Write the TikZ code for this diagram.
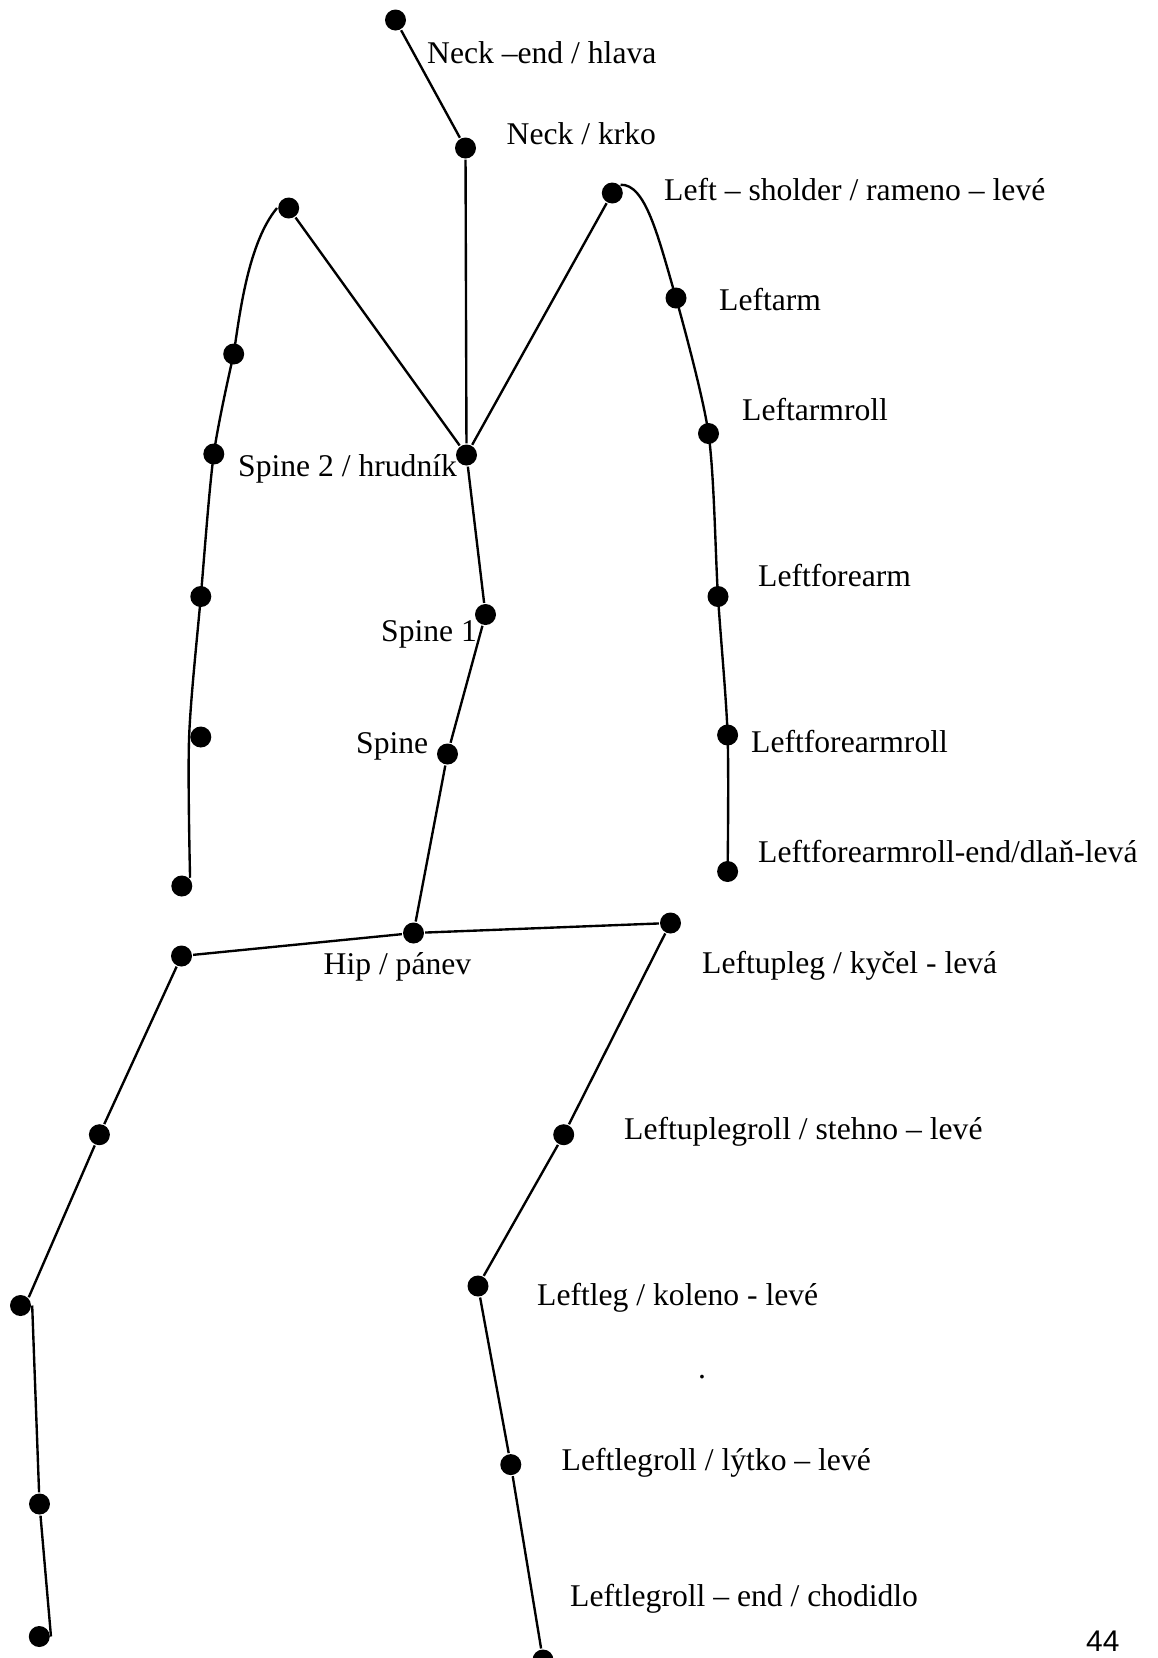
\documentclass[tikz,border=0pt]{standalone}
\usepackage{fontspec}
\setmainfont{Liberation Serif}
\newfontfamily\pagefont{Liberation Sans}
\begin{document}
\begin{tikzpicture}[x=0.02cm,y=-0.02cm,line width=1.35pt,
		joint/.style={circle,fill=black,inner sep=0pt,minimum size=0.42cm},
		lbl/.style={anchor=base west,inner sep=0pt,font=\fontsize{18}{22}\selectfont}]
		\useasboundingbox (0,0) rectangle (1158,1658);

		% trup
		\node[joint] (head) at (395.5,20) {};
		\node[joint] (neck) at (465.5,148) {};
		\node[joint] (spinetwo) at (466.5,455) {};
		\node[joint] (spineone) at (485.5,614.5) {};
		\node[joint] (spine) at (447.5,754) {};
		\node[joint] (hip) at (413.5,933) {};

		% ruka vlevo
		\node[joint] (rsh) at (288.7,208) {};
		\node[joint] (rarm) at (233.7,354) {};
		\node[joint] (rarmroll) at (213.8,454) {};
		\node[joint] (rfore) at (200.8,596.5) {};
		\node[joint] (rforeroll) at (200.8,737) {};
		\node[joint] (rhand) at (181.8,886) {};

		% ruka vpravo
		\node[joint] (lsh) at (612.3,193) {};
		\node[joint] (larm) at (676,298) {};
		\node[joint] (larmroll) at (708.5,433.5) {};
		\node[joint] (lfore) at (718,596.5) {};
		\node[joint] (lforeroll) at (727.6,735) {};
		\node[joint] (lhand) at (727.6,871.5) {};

		% nohy
		\node[joint] (rupleg) at (181.5,956) {};
		\node[joint] (ruplegroll) at (99.4,1134.7) {};
		\node[joint] (rleg) at (20.5,1305.5) {};
		\node[joint] (rlegroll) at (39.5,1504) {};
		\node[joint] (rfoot) at (39.3,1636.5) {};
		\node[joint] (lupleg) at (670.5,923) {};
		\node[joint] (luplegroll) at (563.7,1134.7) {};
		\node[joint] (lleg) at (478,1286) {};
		\node[joint] (llegroll) at (510.8,1464.6) {};
		\node[joint] (lfoot) at (543,1660) {};

		% spoje
		\draw (head) -- (neck) -- (spinetwo) -- (spineone) -- (spine) -- (hip);
		\draw (rsh) -- (spinetwo) -- (lsh);
		\draw (rupleg) -- (hip) -- (lupleg);
		\draw (rupleg) -- (ruplegroll) -- (rleg.north east);
		\draw (rleg.east) -- (rlegroll) -- (rfoot.east);
		\draw (lupleg) -- (luplegroll) -- (lleg) -- (llegroll) -- (lfoot);

		\draw (rsh.west) .. controls +(-29,35) and +(6,-40) .. (rarm.center)
			plot[smooth] coordinates {(rarm.center) (rarmroll.center) (rfore.center) (rforeroll.west) (rhand.north east)};
		\draw (lsh.north east) .. controls +(25,-1) and +(-18,-62) .. (larm.center)
			plot[smooth] coordinates {(larm.center) (larmroll.center) (lfore.center) (lforeroll.center) (lhand.center)};

		% popisky
		\node[lbl] (neckendlbl) at (426,63) {Neck –end / hlava};
		\node[lbl] (necklbl) at (505.5,144) {Neck / krko};
		\node[lbl] (lshlbl) at (663,200) {Left – sholder / rameno – levé};
		\node[lbl] (larmlbl) at (718,310) {Leftarm};
		\node[lbl] (larmrolllbl) at (741,420) {Leftarmroll};
		\node[lbl] (lforelbl) at (757,586) {Leftforearm};
		\node[lbl] (lforerolllbl) at (750,752) {Leftforearmroll};
		\node[lbl] (lhandlbl) at (757,862) {Leftforearmroll-end/dlaň-levá};
		\node[lbl] (spinetwolbl) at (237,476) {Spine 2 / hrudník};
		\node[lbl] (spineonelbl) at (380,641) {Spine 1};
		\node[lbl] (spinelbl) at (355,753) {Spine};
		\node[lbl] (hiplbl) at (322.5,974.5) {Hip / pánev};
		\node[lbl] (lupleglbl) at (701,973) {Leftupleg / kyčel - levá};
		\node[lbl] (luplegrolllbl) at (623,1139.5) {Leftuplegroll / stehno – levé};
		\node[lbl] (lleglbl) at (536,1305.5) {Leftleg / koleno - levé};
		\node[lbl] (llegrolllbl) at (560.5,1470.5) {Leftlegroll / lýtko – levé};
		\node[lbl] (lfootlbl) at (569,1606) {Leftlegroll – end / chodidlo};
		\node[lbl] (dotlbl) at (697,1378) {.};
		\node[lbl,font=\pagefont\fontsize{17}{20}\selectfont] (pagenum) at (1085,1651) {44};
	\end{tikzpicture}
\end{document}
